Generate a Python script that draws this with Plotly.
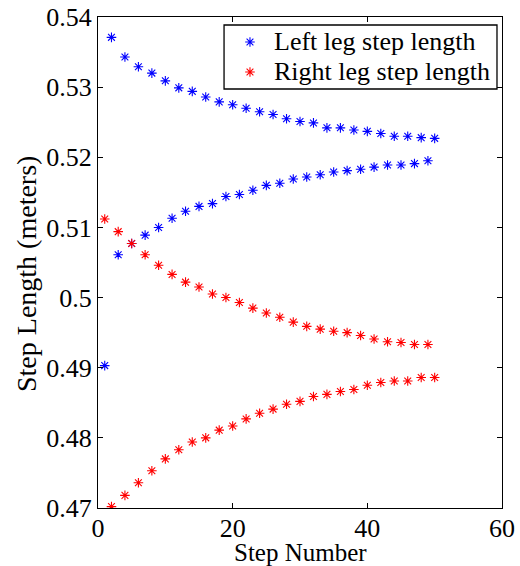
import plotly.graph_objects as go

steps = list(range(1, 51))

left_leg = [
    0.4903, 0.5371, 0.5061, 0.5343, 0.5077, 0.5329, 0.5089, 0.5320, 0.5100, 0.5309,
    0.5113, 0.5299, 0.5123, 0.5294, 0.5130, 0.5286, 0.5134, 0.5279, 0.5144, 0.5275,
    0.5147, 0.5270, 0.5153, 0.5265, 0.5160, 0.5261, 0.5163, 0.5255, 0.5169, 0.5251,
    0.5172, 0.5249, 0.5175, 0.5242, 0.5179, 0.5242, 0.5181, 0.5239, 0.5183, 0.5237,
    0.5186, 0.5234, 0.5189, 0.5230, 0.5189, 0.5230, 0.5191, 0.5228, 0.5195, 0.5227,
]

right_leg = [
    0.5112, 0.4702, 0.5094, 0.4718, 0.5077, 0.4736, 0.5061, 0.4753, 0.5046, 0.4770,
    0.5033, 0.4783, 0.5022, 0.4794, 0.5015, 0.4800, 0.5005, 0.4811, 0.5000, 0.4817,
    0.4993, 0.4827, 0.4985, 0.4835, 0.4978, 0.4841, 0.4972, 0.4848, 0.4965, 0.4852,
    0.4959, 0.4859, 0.4955, 0.4862, 0.4952, 0.4866, 0.4950, 0.4869, 0.4946, 0.4875,
    0.4941, 0.4879, 0.4937, 0.4881, 0.4936, 0.4881, 0.4933, 0.4886, 0.4933, 0.4886,
]

series_names = ["Left leg step length", "Right leg step length"]
series_colors = ["#0000ff", "#ff0000"]

x_ticks = [0, 20, 40, 60]
y_ticks = [0.47, 0.48, 0.49, 0.50, 0.51, 0.52, 0.53, 0.54]
y_tick_labels = ["0.47", "0.48", "0.49", "0.5", "0.51", "0.52", "0.53", "0.54"]

x_title = "Step Number"
y_title = "Step Length (meters)"

font_family = "Liberation Serif, Times New Roman, serif"

def star_marker(color):
    return dict(symbol="asterisk-open", size=8, color=color,
                line=dict(color=color, width=1.1))

fig = go.Figure()
for vals, name, color in zip([left_leg, right_leg], series_names, series_colors):
    fig.add_trace(go.Scatter(x=steps, y=vals, mode="markers", name=name,
                             marker=star_marker(color), showlegend=False))

# Legend box (drawn manually so that row spacing matches the original)
leg_x0, leg_x1, leg_y0, leg_y1 = 0.312, 0.9876, 0.8534, 0.9837
leg_marker_x = 0.3762
leg_text_x = 0.4307
leg_rows_y = [0.9491, 0.8880]

fig.add_shape(type="rect", xref="paper", yref="paper",
              x0=leg_x0, x1=leg_x1, y0=leg_y0, y1=leg_y1,
              line=dict(color="black", width=1.3), fillcolor="white", layer="below")
for name, color, ry in zip(series_names, series_colors, leg_rows_y):
    fig.add_trace(go.Scatter(x=[leg_marker_x], y=[ry], xaxis="x2", yaxis="y2",
                             mode="markers", marker=star_marker(color),
                             showlegend=False, hoverinfo="skip"))
    fig.add_annotation(x=leg_text_x, y=ry, xref="paper", yref="paper",
                       text=name, showarrow=False, xanchor="left", yanchor="middle",
                       font=dict(family=font_family, size=26, color="black"))

# Axis titles
fig.add_annotation(x=0.5, y=0, xref="paper", yref="paper", yshift=-60,
                   text=x_title, showarrow=False, xanchor="center", yanchor="bottom",
                   font=dict(family=font_family, size=25, color="black"))
fig.add_annotation(x=0, y=0.4766, xref="paper", yref="paper", xshift=-71,
                   text=y_title, showarrow=False, textangle=-90,
                   xanchor="center", yanchor="middle",
                   font=dict(family=font_family, size=28, color="black"))

axis_common = dict(
    showgrid=False, zeroline=False, showline=True, linecolor="black", linewidth=1.3,
    mirror="ticks", ticks="inside", ticklen=5, tickcolor="black", tickwidth=1,
    tickfont=dict(family=font_family, size=26, color="black"), automargin=False,
)

fig.update_layout(
    width=520, height=566,
    margin=dict(l=98, r=18, t=17, b=58),
    paper_bgcolor="white", plot_bgcolor="white",
    font=dict(family=font_family, size=26, color="black"),
    xaxis=dict(range=[0, 60], tickvals=x_ticks, ticktext=[str(t) for t in x_ticks],
               ticklabelstandoff=-3, **axis_common),
    yaxis=dict(range=[0.47, 0.54], tickvals=y_ticks, ticktext=y_tick_labels,
               **axis_common),
    xaxis2=dict(overlaying="x", range=[0, 1], visible=False, fixedrange=True),
    yaxis2=dict(overlaying="y", range=[0, 1], visible=False, fixedrange=True),
    showlegend=False,
)

fig.write_html("out.html")
